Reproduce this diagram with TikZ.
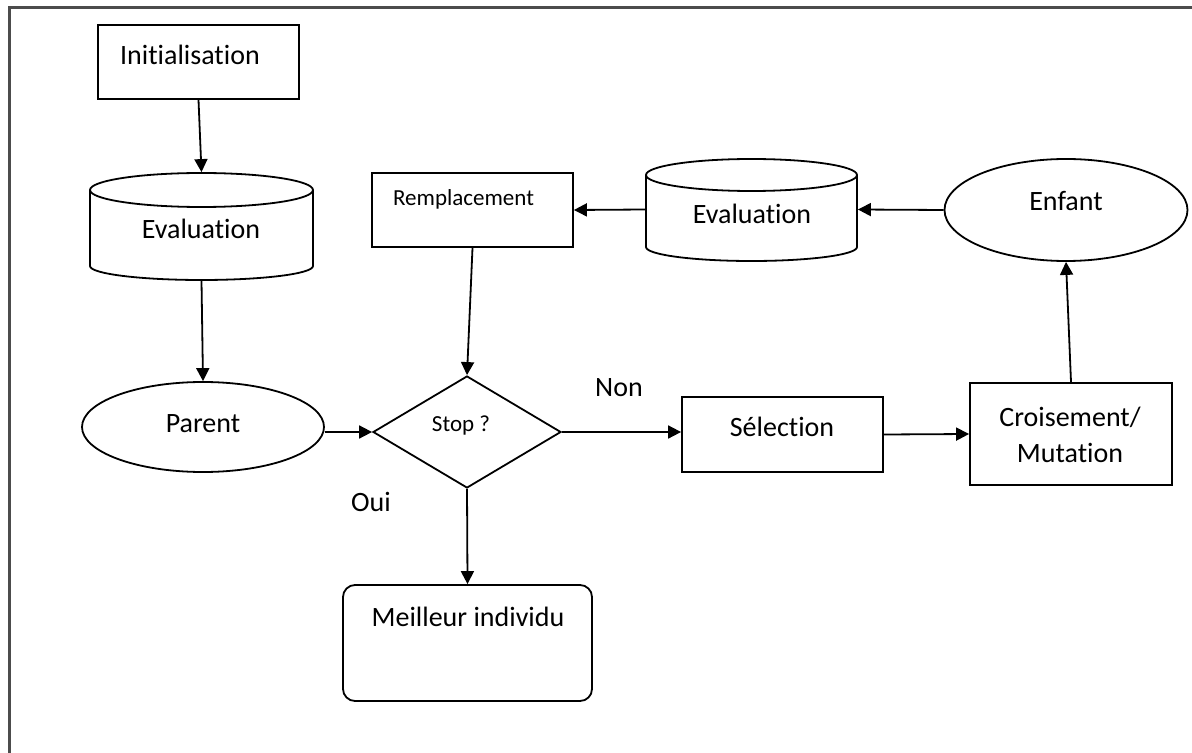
\documentclass[tikz,border=0pt]{standalone}
\usepackage{fontspec}
\setmainfont{Carlito}[Ligatures=NoCommon]
\usetikzlibrary{arrows.meta,shapes.geometric}
\begin{document}
\begin{tikzpicture}[x=0.5pt,y=0.5pt,
  line width=0.9pt,
  box/.style={draw,rectangle,inner sep=0pt},
  oval/.style={draw,ellipse,inner sep=0pt},
  ghost/.style={rectangle,inner sep=0pt},
  txt/.style={inner sep=0pt,font=\fontsize{14}{16}\selectfont},
  smalltxt/.style={inner sep=0pt,font=\fontsize{11.5}{13}\selectfont},
  arr/.style={-{Triangle[length=6.5pt,width=6.5pt]}},
  frame/.style={draw=black!70,line width=1.3pt}]
\useasboundingbox (0,0) rectangle (1192,-753);
% outer frame
\draw[frame] (9.5,-7.5) rectangle (1205,-770);

% shapes
\node[box,minimum width=100.5pt,minimum height=37pt] (init) at (198.5,-62) {};
\node[ghost,minimum width=111.5pt,minimum height=53.5pt] (evalL) at (201.5,-226.5) {};
\draw (90,-190) -- (90,-266) arc[start angle=180,end angle=360,x radius=111.5,y radius=14] -- (313,-190);
\draw (201.5,-190) ellipse [x radius=111.5,y radius=17];
\node[oval,minimum width=121pt,minimum height=45pt] (parent) at (203,-427) {};
\node[draw,diamond,inner sep=0pt,minimum width=94pt,minimum height=56pt] (stop) at (467,-432) {};
\node[box,minimum width=100.5pt,minimum height=37pt] (remp) at (472.5,-210) {};
\node[ghost,minimum width=105.5pt,minimum height=51.5pt] (evalR) at (751.5,-209.5) {};
\draw (646,-175) -- (646,-247) arc[start angle=180,end angle=360,x radius=105.5,y radius=14] -- (857,-175);
\draw (751.5,-175) ellipse [x radius=105.5,y radius=16];
\node[oval,minimum width=121.5pt,minimum height=51pt] (enfant) at (1066,-210) {};
\node[box,minimum width=100.5pt,minimum height=37.5pt] (sel) at (782.5,-434.5) {};
\node[box,minimum width=101pt,minimum height=51pt] (crois) at (1071,-434) {};
\node[box,rounded corners=6pt,minimum width=124.5pt,minimum height=58pt] (best) at (467.5,-643) {};

% texts
\node[txt] (initT) at (190,-55) {Initialisation};
\node[txt] (evalLT) at (201,-229) {Evaluation};
\node[txt] (parentT) at (203,-424) {Parent};
\node[smalltxt] (stopT) at (461,-425) {Stop ?};
\node[smalltxt] (rempT) at (463.5,-199) {Remplacement};
\node[txt] (evalRT) at (752,-214) {Evaluation};
\node[txt] (enfantT) at (1066,-201) {Enfant};
\node[txt] (selT) at (782,-427) {Sélection};
\node[txt,align=center,font=\fontsize{14}{18}\selectfont] (croisT) at (1070,-435) {Croisement/\\Mutation};
\node[txt] (bestT) at (468,-617) {Meilleur individu};
\node[txt] (non) at (619,-388) {Non};
\node[txt] (oui) at (371,-502) {Oui};

% connectors
\draw[arr] (init.south) -- (evalL.north);
\draw[arr] (evalL.south) -- (parent.north);
\draw[arr] (stop.west -| parent.east) -- (stop.west);
\draw[arr] (stop.east) -- (sel.west |- stop.east);
\draw[arr] (sel.east) -- (crois.west);
\draw[arr] (crois.north) -- (enfant.south);
\draw[arr] (enfant.west) -- (evalR.east);
\draw[arr] (evalR.west) -- (remp.east);
\draw[arr] (remp.south) -- (stop.north);
\draw[arr] (stop.south) -- (best.north);
\end{tikzpicture}
\end{document}
